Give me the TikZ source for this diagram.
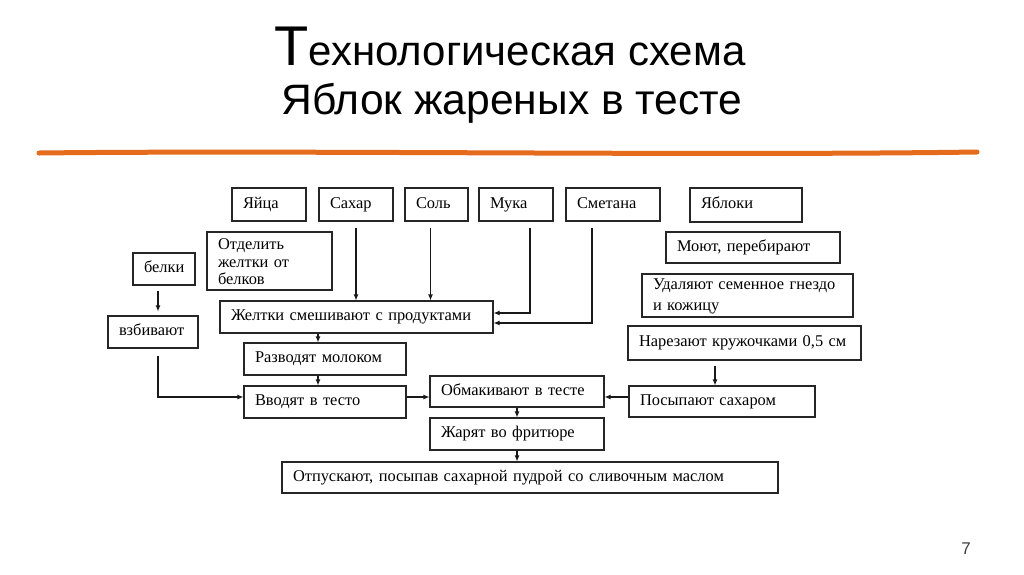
\documentclass[tikz,border=0pt]{standalone}
\usepackage{fontspec}
\setmainfont{Liberation Serif}
\newfontfamily\titlefont{Liberation Sans}
\usetikzlibrary{arrows.meta}
\definecolor{rulecolor}{RGB}{228,108,28}
\tikzset{
  box/.style={draw=black!85, line width=1.1pt, inner xsep=11pt, inner ysep=0pt, align=left,
    font=\fontsize{16.4}{17.5}\selectfont, execute at begin node=\strut},
  arr/.style={-{Latex[length=6pt,width=5pt]}, line width=1.1pt, draw=black!90},
  title/.style={font=\titlefont\fontsize{42}{42}\selectfont, anchor=base}
}
\begin{document}
\begin{tikzpicture}[x=1pt,y=-1pt]
\useasboundingbox[fill=white] (0,0) rectangle (1024,574);
\node[title] (titleA) at (510,65) {{\fontsize{56}{56}\selectfont Т}ехнологическая схема};
\node[title, font=\titlefont\fontsize{42.6}{43}\selectfont] (titleB) at (512,114) {Яблок жареных в тесте};
\draw[rulecolor, line width=5pt, line cap=round] (39,153) .. controls (300,150) and (700,156) .. (977,152);
\node[box, text width=52pt, minimum height=33pt] (yaitsa) at (269,204.5) {Яйца};
\node[box, text width=52pt, minimum height=33pt] (sakhar) at (356,204.5) {Сахар};
\node[box, text width=41pt, minimum height=33pt] (sol) at (436.5,204.5) {Соль};
\node[box, text width=52pt, minimum height=33pt] (muka) at (516,204.5) {Мука};
\node[box, text width=72pt, minimum height=33pt] (smetana) at (613,204.5) {Сметана};
\node[box, text width=90pt, minimum height=34pt] (yabloki) at (746,205) {Яблоки};
\node[box, text width=152pt, minimum height=31pt] (moyut) at (753,247.5) {Моют, перебирают};
\node[box, text width=189pt, minimum height=43pt] (udalyayut) at (747.5,295.5) {Удаляют семенное гнездо\\[3pt] и кожицу};
\node[box, text width=211pt, minimum height=34pt] (narezayut) at (744.5,343) {Нарезают кружочками 0,5 см};
\node[box, text width=164pt, minimum height=31pt] (posypayut) at (722,401.5) {Посыпают сахаром};
\node[box, text width=103pt, minimum height=58pt] (otdelit) at (269.5,261) {Отделить\\ желтки от\\ белков};
\node[box, text width=40pt, minimum height=32pt] (belki) at (164,269) {белки};
\node[box, text width=68pt, minimum height=32pt] (vzbivayut) at (153,332) {взбивают};
\node[box, text width=251pt, minimum height=32pt] (zheltki) at (356.5,317) {Желтки смешивают с продуктами};
\node[box, text width=140pt, minimum height=32pt] (razvodyat) at (325,359) {Разводят молоком};
\node[box, text width=140pt, minimum height=32pt] (vvodyat) at (325,402) {Вводят в тесто};
\node[box, text width=152pt, minimum height=31pt] (obmakivayut) at (517,391.5) {Обмакивают в тесте};
\node[box, text width=152pt, minimum height=32pt] (zharyat) at (517,434) {Жарят во фритюре};
\node[box, text width=474pt, minimum height=31pt] (otpuskayut) at (530,477.5) {Отпускают, посыпав сахарной пудрой со сливочным маслом};
\node[font=\titlefont\fontsize{17}{17}\selectfont, text=black!75] (page) at (966,549) {7};
\draw[arr, shorten <=6pt] (sakhar.south) -- (sakhar.south |- zheltki.north);
\draw[arr, shorten <=6pt] ([xshift=-6pt]sol.south) -- ([xshift=-6pt]sol.south |- zheltki.north);
\draw[arr, shorten <=6pt] ([xshift=14pt]muka.south) |- ([yshift=4pt]zheltki.east);
\draw[arr, shorten <=6pt] ([xshift=-21pt]smetana.south) |- ([yshift=-6pt]zheltki.east);
\draw[arr, shorten <=5pt, shorten >=4pt] ([xshift=-6pt]belki.south) -- ([xshift=-6pt]belki.south |- vzbivayut.north);
\draw[arr, shorten <=7pt] ([xshift=5pt]vzbivayut.south) |- ([yshift=5pt]vvodyat.west);
\draw[arr] ([xshift=-7pt]razvodyat.north |- zheltki.south) -- ([xshift=-7pt]razvodyat.north);
\draw[arr] ([xshift=-7pt]razvodyat.south) -- ([xshift=-7pt]vvodyat.north);
\draw[arr] ([yshift=5pt]vvodyat.east) -- ([yshift=5pt]vvodyat.east -| obmakivayut.west);
\draw[arr] ([yshift=4.5pt]posypayut.west) -- ([yshift=4.5pt]posypayut.west -| obmakivayut.east);
\draw[arr] (obmakivayut.south) -- (zharyat.north);
\draw[arr] (zharyat.south) -- (zharyat.south |- otpuskayut.north);
\draw[arr, shorten <=5pt] ([xshift=-7pt]posypayut.north |- narezayut.south) -- ([xshift=-7pt]posypayut.north);
\end{tikzpicture}
\end{document}
